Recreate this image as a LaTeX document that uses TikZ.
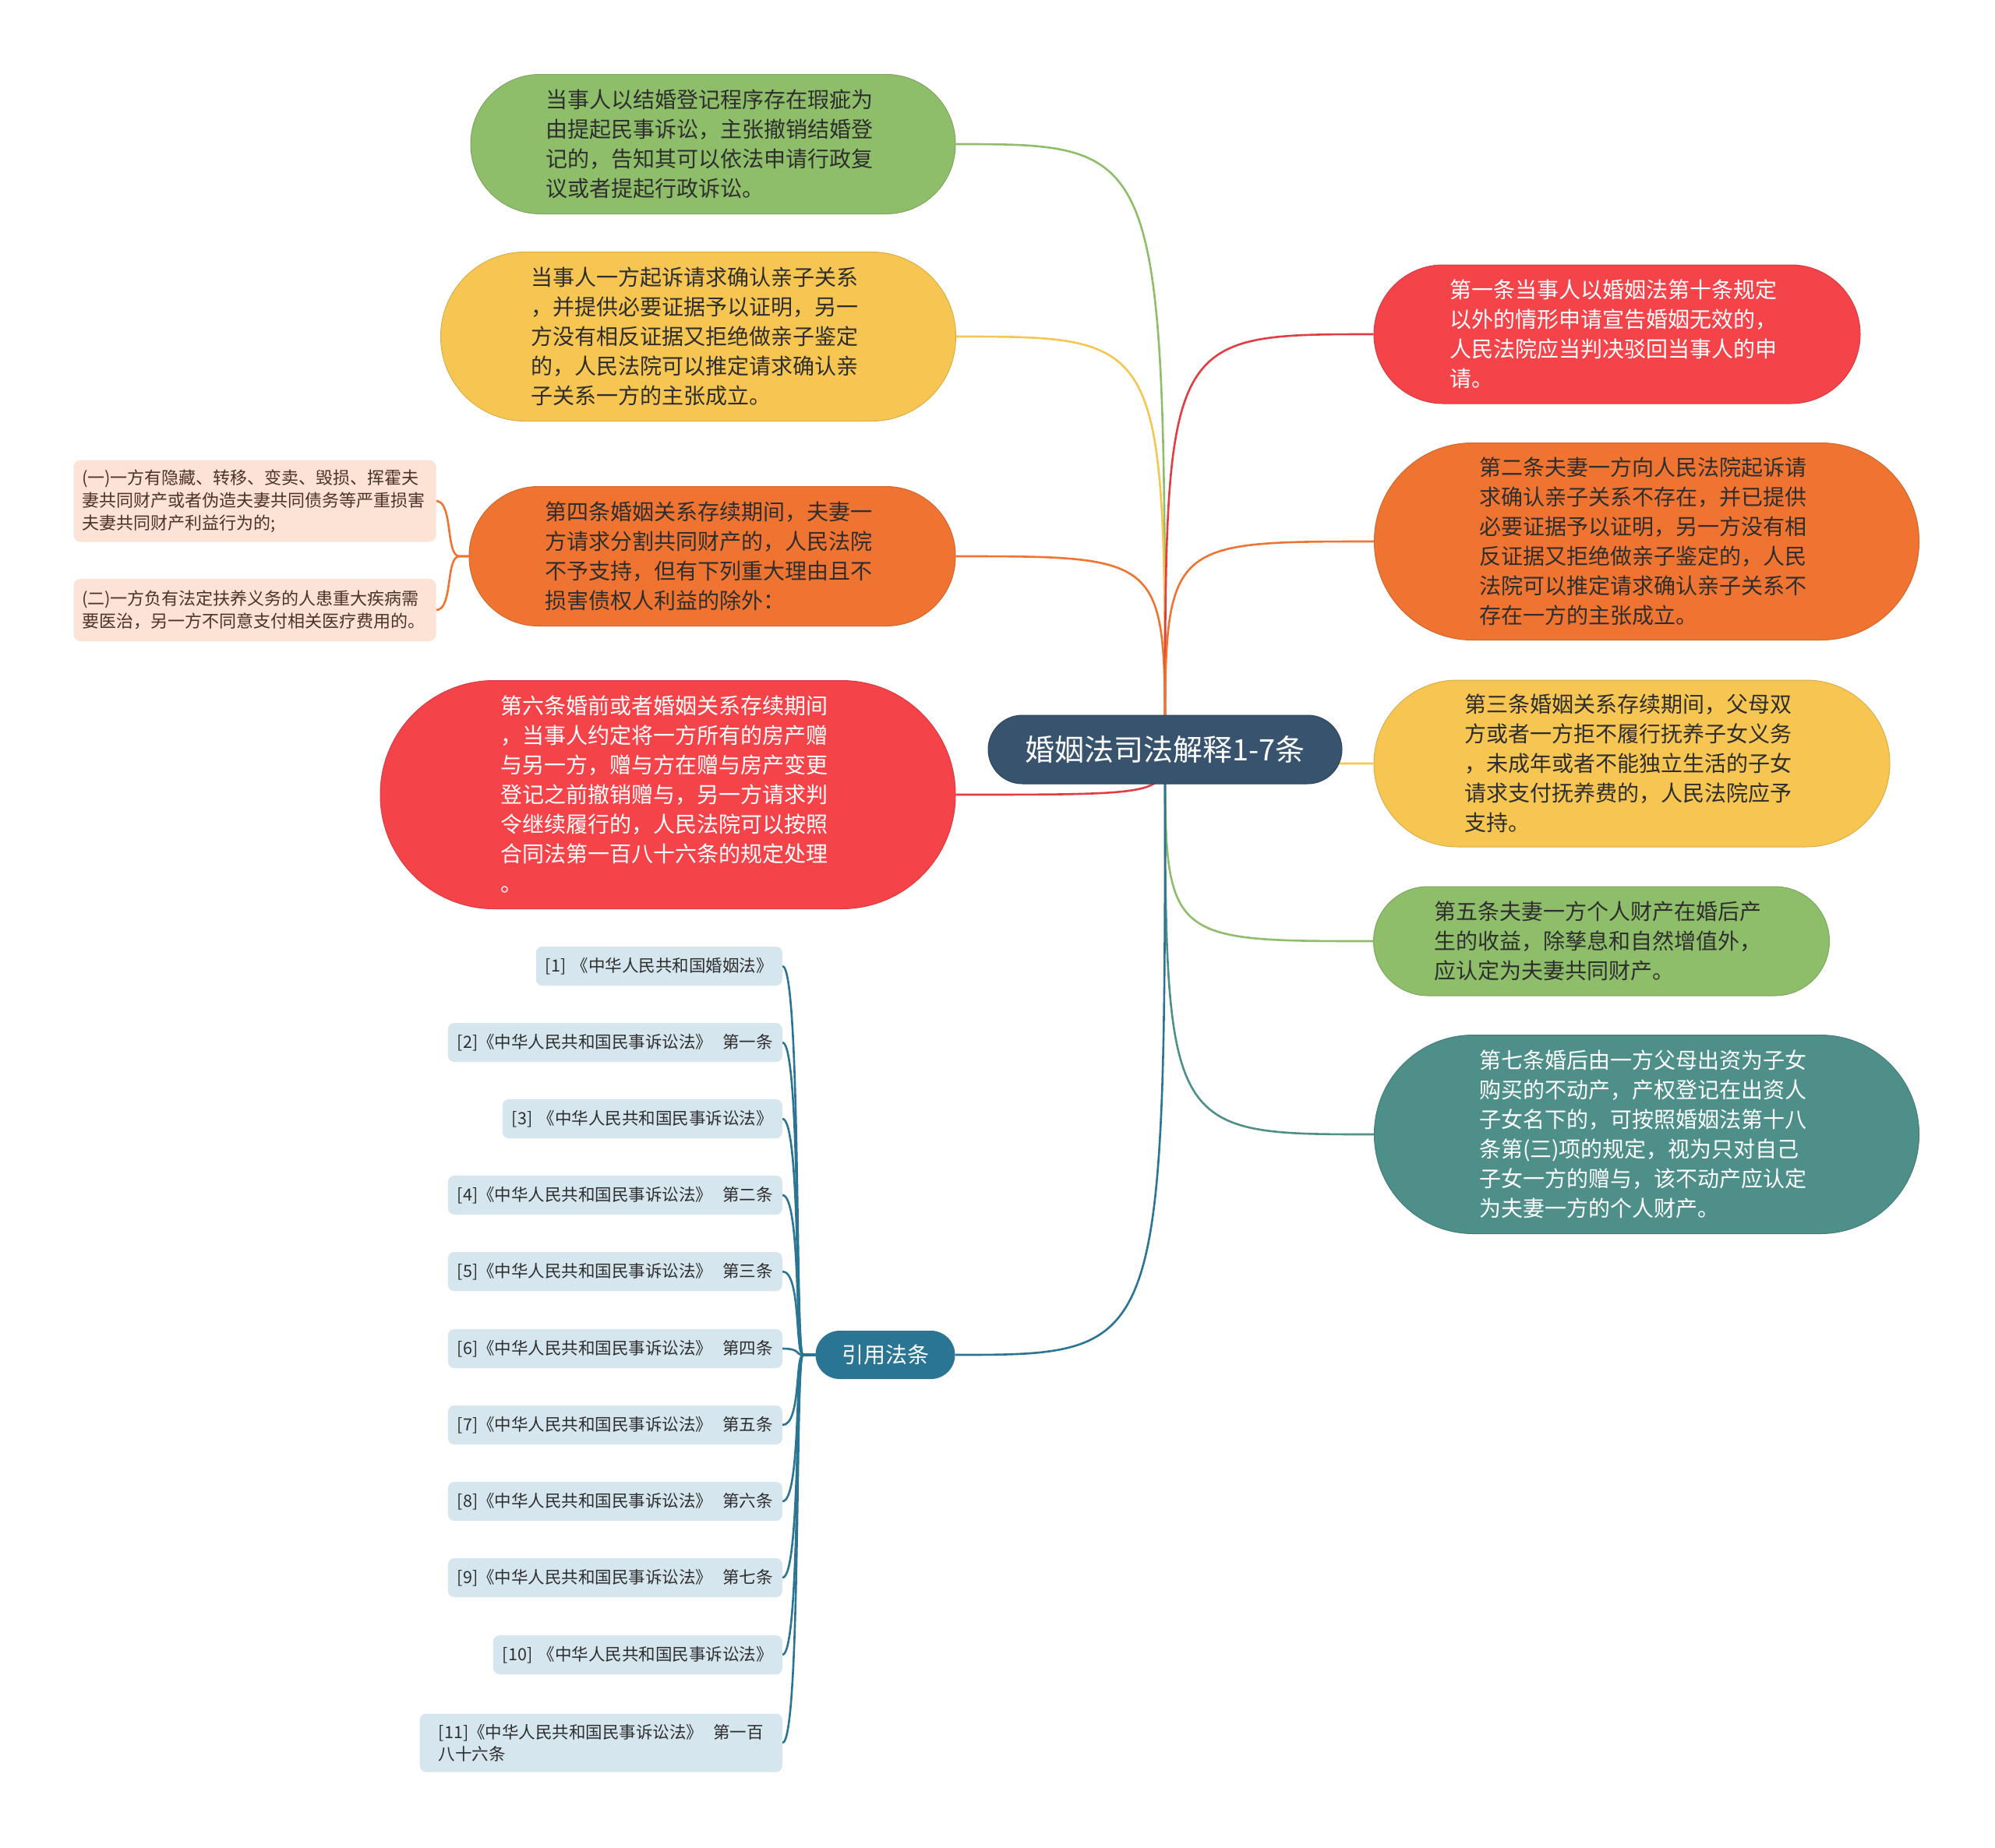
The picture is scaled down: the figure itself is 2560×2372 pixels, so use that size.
\documentclass[tikz,border=0pt]{standalone}
\usepackage{fontspec}
\setmainfont{Noto Sans CJK SC}
\usetikzlibrary{backgrounds}
\definecolor{cgreen}{HTML}{8FBE6B}
\definecolor{cyellow}{HTML}{F7C652}
\definecolor{corange}{HTML}{EF7431}
\definecolor{cred}{HTML}{F5434A}
\definecolor{cteal}{HTML}{4E8F8A}
\definecolor{ccenter}{HTML}{38536E}
\definecolor{cblue}{HTML}{2B7594}
\definecolor{crefbg}{HTML}{D6E6EE}
\definecolor{csubbg}{HTML}{FCE3D5}
\definecolor{cdark}{HTML}{2E2E2E}
\definecolor{cbrown}{HTML}{4A3428}
\begin{document}
\begin{tikzpicture}[x=1pt,y=-1pt,
  bigbox/.style={rectangle, inner sep=0pt, align=left, text width=430pt,
    font=\fontsize{28}{38}\selectfont, line width=1pt},
  refbox/.style={rectangle, fill=crefbg, text=cdark, font=\fontsize{21.5}{28}\selectfont,
    rounded corners=8pt, inner xsep=12pt, inner ysep=0pt, minimum height=50pt, anchor=east, align=left},
  subbox/.style={rectangle, fill=csubbg, text=cbrown, font=\fontsize{22}{29}\selectfont,
    rounded corners=9pt, inner sep=0pt, text width=444pt, minimum width=465pt, align=left},
  conn/.style={line width=2.6pt},
]
\useasboundingbox (0,0) rectangle (2560,2372);

% centre
\node[fill=ccenter, draw=ccenter!85!black, line width=1pt, text=white, font=\fontsize{38}{44}\selectfont,
  minimum width=454pt, minimum height=88pt, rounded corners=44pt, inner sep=0pt] (ctr) at (1495,962) {婚姻法司法解释1-7条};

% left branches
\node[bigbox, fill=cgreen, draw=cgreen!88!black, text=cdark, minimum width=622pt, minimum height=179pt, rounded corners=89pt] (g1) at (915,185)
 {当事人以结婚登记程序存在瑕疵为\\由提起民事诉讼，主张撤销结婚登\\记的，告知其可以依法申请行政复\\议或者提起行政诉讼。};
\node[bigbox, fill=cyellow, draw=cyellow!88!black, text=cdark, minimum width=661pt, minimum height=217pt, rounded corners=108pt] (y1) at (896,432)
 {当事人一方起诉请求确认亲子关系\\，并提供必要证据予以证明，另一\\方没有相反证据又拒绝做亲子鉴定\\的，人民法院可以推定请求确认亲\\子关系一方的主张成立。};
\node[bigbox, fill=corange, draw=corange!88!black, text=cdark, minimum width=624pt, minimum height=179pt, rounded corners=89pt] (o1) at (914,714)
 {第四条婚姻关系存续期间，夫妻一\\方请求分割共同财产的，人民法院\\不予支持，但有下列重大理由且不\\损害债权人利益的除外：};
\node[bigbox, fill=cred, draw=cred!88!black, text=white, minimum width=738pt, minimum height=293pt, rounded corners=146pt] (r1) at (857,1020)
 {第六条婚前或者婚姻关系存续期间\\，当事人约定将一方所有的房产赠\\与另一方，赠与方在赠与房产变更\\登记之前撤销赠与，另一方请求判\\令继续履行的，人民法院可以按照\\合同法第一百八十六条的规定处理\\。};

% sub items of o1
\node[subbox, minimum height=105pt] (sa) at (327,643)
 {(一)一方有隐藏、转移、变卖、毁损、挥霍夫\\妻共同财产或者伪造夫妻共同债务等严重损害\\夫妻共同财产利益行为的;};
\node[subbox, minimum height=80pt] (sb) at (327,783)
 {(二)一方负有法定扶养义务的人患重大疾病需\\要医治，另一方不同意支付相关医疗费用的。};

% right branches
\node[bigbox, fill=cred, draw=cred!88!black, text=white, minimum width=624pt, minimum height=178pt, rounded corners=89pt] (r2) at (2075,429)
 {第一条当事人以婚姻法第十条规定\\以外的情形申请宣告婚姻无效的，\\人民法院应当判决驳回当事人的申\\请。};
\node[bigbox, fill=corange, draw=corange!88!black, text=cdark, minimum width=699pt, minimum height=253pt, rounded corners=126pt] (o2) at (2113,695)
 {第二条夫妻一方向人民法院起诉请\\求确认亲子关系不存在，并已提供\\必要证据予以证明，另一方没有相\\反证据又拒绝做亲子鉴定的，人民\\法院可以推定请求确认亲子关系不\\存在一方的主张成立。};
\node[bigbox, fill=cyellow, draw=cyellow!88!black, text=cdark, minimum width=662pt, minimum height=214pt, rounded corners=107pt] (y2) at (2094,980)
 {第三条婚姻关系存续期间，父母双\\方或者一方拒不履行抚养子女义务\\，未成年或者不能独立生活的子女\\请求支付抚养费的，人民法院应予\\支持。};
\node[bigbox, fill=cgreen, draw=cgreen!88!black, text=cdark, minimum width=585pt, minimum height=140pt, rounded corners=70pt] (g2) at (2055,1208)
 {第五条夫妻一方个人财产在婚后产\\生的收益，除孳息和自然增值外，\\应认定为夫妻共同财产。};
\node[bigbox, fill=cteal, draw=cteal!88!black, text=white, minimum width=699pt, minimum height=255pt, rounded corners=127pt] (t2) at (2113,1456)
 {第七条婚后由一方父母出资为子女\\购买的不动产，产权登记在出资人\\子女名下的，可按照婚姻法第十八\\条第(三)项的规定，视为只对自己\\子女一方的赠与，该不动产应认定\\为夫妻一方的个人财产。};

% citations
\node[fill=cblue, text=white, font=\fontsize{28}{34}\selectfont, minimum width=179pt, minimum height=62pt,
  rounded corners=31pt, inner sep=0pt] (yy) at (1136,1739) {引用法条};
\node[refbox] (c1) at (1004,1240) {[1]\hspace{0.35em}《中华人民共和国婚姻法》};
\node[refbox] (c2) at (1004,1338) {[2]《中华人民共和国民事诉讼法》\hspace{0.6em}第一条};
\node[refbox] (c3) at (1004,1436) {[3]\hspace{0.35em}《中华人民共和国民事诉讼法》};
\node[refbox] (c4) at (1004,1534) {[4]《中华人民共和国民事诉讼法》\hspace{0.6em}第二条};
\node[refbox] (c5) at (1004,1632) {[5]《中华人民共和国民事诉讼法》\hspace{0.6em}第三条};
\node[refbox] (c6) at (1004,1731) {[6]《中华人民共和国民事诉讼法》\hspace{0.6em}第四条};
\node[refbox] (c7) at (1004,1829) {[7]《中华人民共和国民事诉讼法》\hspace{0.6em}第五条};
\node[refbox] (c8) at (1004,1927) {[8]《中华人民共和国民事诉讼法》\hspace{0.6em}第六条};
\node[refbox] (c9) at (1004,2025) {[9]《中华人民共和国民事诉讼法》\hspace{0.6em}第七条};
\node[refbox] (c10) at (1004,2124) {[10]\hspace{0.35em}《中华人民共和国民事诉讼法》};
\node[refbox, minimum height=75pt, minimum width=465pt] (c11) at (1004,2237) {[11]《中华人民共和国民事诉讼法》\hspace{0.6em}第一百\\八十六条};

\begin{scope}[on background layer]
\fill[white] (0,0) rectangle (2560,2372);
\draw[conn, cgreen] (ctr.center) .. controls (ctr.center |- g1.east) .. (g1.east);
\draw[conn, cyellow] (ctr.center) .. controls (ctr.center |- y1.east) .. (y1.east);
\draw[conn, corange] (ctr.center) .. controls (ctr.center |- o1.east) .. (o1.east);
\draw[conn, cred!92!black] (ctr.center) .. controls (ctr.center |- r1.east) .. (r1.east);
\draw[conn, cred!92!black] (ctr.center) .. controls (ctr.center |- r2.west) .. (r2.west);
\draw[conn, corange] (ctr.center) .. controls (ctr.center |- o2.west) .. (o2.west);
\draw[conn, cyellow] (ctr.center) .. controls (ctr.center |- y2.west) .. (y2.west);
\draw[conn, cgreen] (ctr.center) .. controls (ctr.center |- g2.west) .. (g2.west);
\draw[conn, cteal] (ctr.center) .. controls (ctr.center |- t2.west) .. (t2.west);
\draw[conn, cblue] (ctr.center) .. controls (ctr.center |- yy.east) .. (yy.east);
\draw[conn, corange] (o1.west) -- ++(-12,0) .. controls +(-18,0) and +(22,0) .. (sa.east);
\draw[conn, corange] (o1.west) -- ++(-12,0) .. controls +(-18,0) and +(22,0) .. (sb.east);
\foreach \c in {c1,c2,c3,c4,c5,c6,c7,c8,c9,c10,c11}
  \draw[conn, cblue] (yy.west) -- ++(-16,0) .. controls +(-10,0) and +(24,0) .. (\c.east);
\end{scope}
\end{tikzpicture}
\end{document}
